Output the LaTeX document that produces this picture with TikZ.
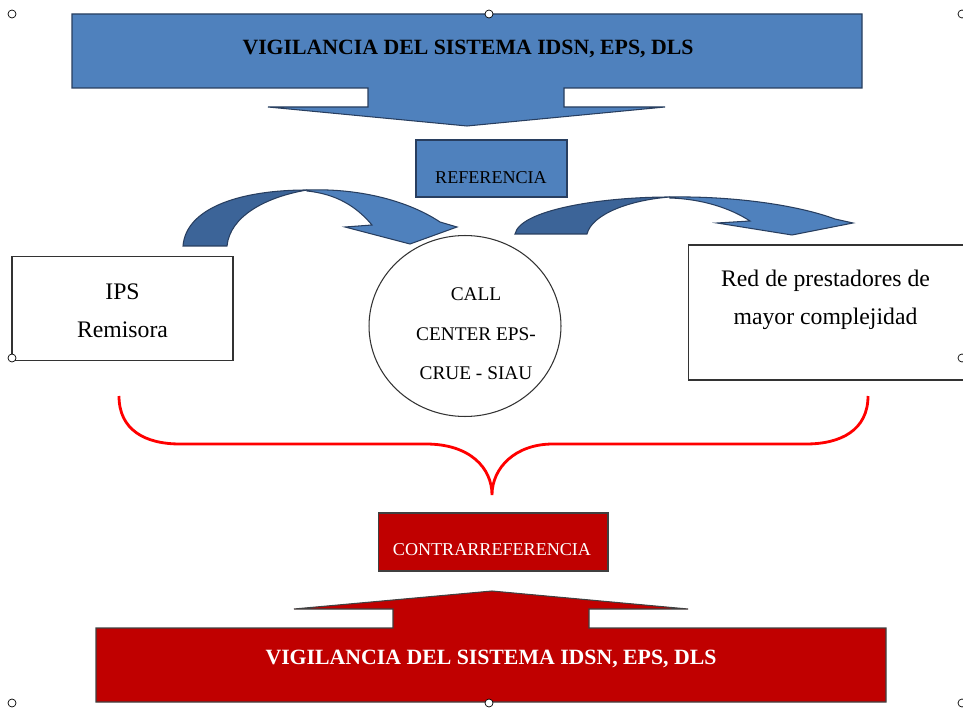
\documentclass[tikz,border=0pt]{standalone}
\usepackage{fontspec}
\setmainfont{Liberation Serif}
\usetikzlibrary{positioning}
\usetikzlibrary{shapes.geometric}
\definecolor{ofblue}{RGB}{79,129,189}
\definecolor{ofdark}{RGB}{60,100,152}
\definecolor{ofline}{RGB}{40,62,95}
\definecolor{ofred}{RGB}{192,0,0}
\tikzset{% block arrows and boxes
        bluearrow/.style={fill=ofblue, draw=ofline, line width=0.6pt},
        darkarrow/.style={fill=ofdark, draw=ofline, line width=0.6pt},
        redarrow/.style={fill=ofred, draw=black!75, line width=0.6pt},
        whitebox/.style={draw=black!80, fill=white, line width=0.6pt, inner sep=0pt},
        handle/.style={draw=black, fill=white, line width=0.4pt},
        bracered/.style={draw=red, line width=1.6pt},
        banner/.style={font=\fontsize{12.4}{14}\selectfont\bfseries},
        smalltext/.style={font=\fontsize{10.3}{12}\selectfont},
        boxtext/.style={align=center, font=\fontsize{13.5}{21.5}\selectfont}
        }

\begin{document}
\begin{tikzpicture}[x=0.02cm, y=-0.02cm]
\useasboundingbox (0,0) rectangle (963,709);
% top banner
\draw[bluearrow] (72,14) -- (862,14) -- (862,88) -- (564,88) -- (564,107) -- (665,107) -- (467,126)
  -- (268,107) -- (368,107) -- (368,88) -- (72,88) -- cycle;
\node[banner] (toptxt) at (468,49) {VIGILANCIA DEL SISTEMA IDSN, EPS, DLS};
\node[draw=ofline, fill=ofblue, line width=0.6pt, minimum width=3.02cm, minimum height=1.14cm] (refbox) at (491.5,168.5) {};
\node[smalltext] (reftxt) at (491,178) {REFERENCIA};

% curved arrows
\draw[darkarrow] (183,246) .. controls (186,208) and (240,190) .. (307,190)
  .. controls (266,197) and (230,216) .. (227,246) -- cycle;
\draw[bluearrow] (307,190) .. controls (362,188) and (410,202) .. (440,222) -- (457,227) -- (410,244)
  -- (345,227) -- (372,225) .. controls (356,206) and (336,194) .. (307,191) -- cycle;
\draw[darkarrow] (515,234) .. controls (520,210) and (600,197) .. (670,197)
  .. controls (630,200) and (592,214) .. (587,234) -- cycle;
\draw[bluearrow] (670,197) .. controls (738,196) and (800,206) .. (835,219) -- (853,223) -- (792,235)
  -- (717,223) -- (750,221) .. controls (730,208) and (702,199) .. (670,198) -- cycle;

% boxes
\node[whitebox, minimum width=4.42cm, minimum height=2.08cm] (ips) at (122.5,308.5) {};
\node[boxtext] (ipstxt) at (122.5,311) {IPS\\Remisora};
\node[whitebox, ellipse, minimum width=3.84cm, minimum height=3.62cm] (call) at (465,326) {};
\node[align=center, font=\fontsize{11}{22.5}\selectfont] (calltxt) at (476,334) {CALL\\CENTER EPS-\\CRUE - SIAU};
\node[whitebox, minimum width=5.52cm, minimum height=2.7cm] (redp) at (826,312.5) {};
\node[boxtext] (redtxt) at (825.5,300) {Red de prestadores de\\mayor complejidad};

% brace
\draw[bracered] (119,396) .. controls (119,430) and (145,444) .. (180,444) -- (426,444)
  .. controls (470,444) and (492,468) .. (492,495) .. controls (492,468) and (515,444) .. (553,444)
  -- (806,444) .. controls (841,444) and (868,430) .. (868,396);

% bottom banner
\node[draw=black!75, fill=ofred, line width=0.6pt, minimum width=4.6cm, minimum height=1.16cm] (contrabox) at (493,542) {};
\node[smalltext, white] (contratxt) at (492,550) {CONTRARREFERENCIA};
\draw[redarrow] (96,628) -- (393,628) -- (393,609) -- (294,609) -- (492,591) -- (688,609) -- (589,609)
  -- (589,628) -- (886,628) -- (886,702) -- (96,702) -- cycle;
\node[banner, white] (bottxt) at (491,659) {VIGILANCIA DEL SISTEMA IDSN, EPS, DLS};

\foreach \hx/\hy in {12/14, 489/14, 962/14, 12/358, 962/358, 12/703, 489/703, 962/703}
  \draw[handle] (\hx,\hy) circle (0.08cm);
\end{tikzpicture}
\end{document}
